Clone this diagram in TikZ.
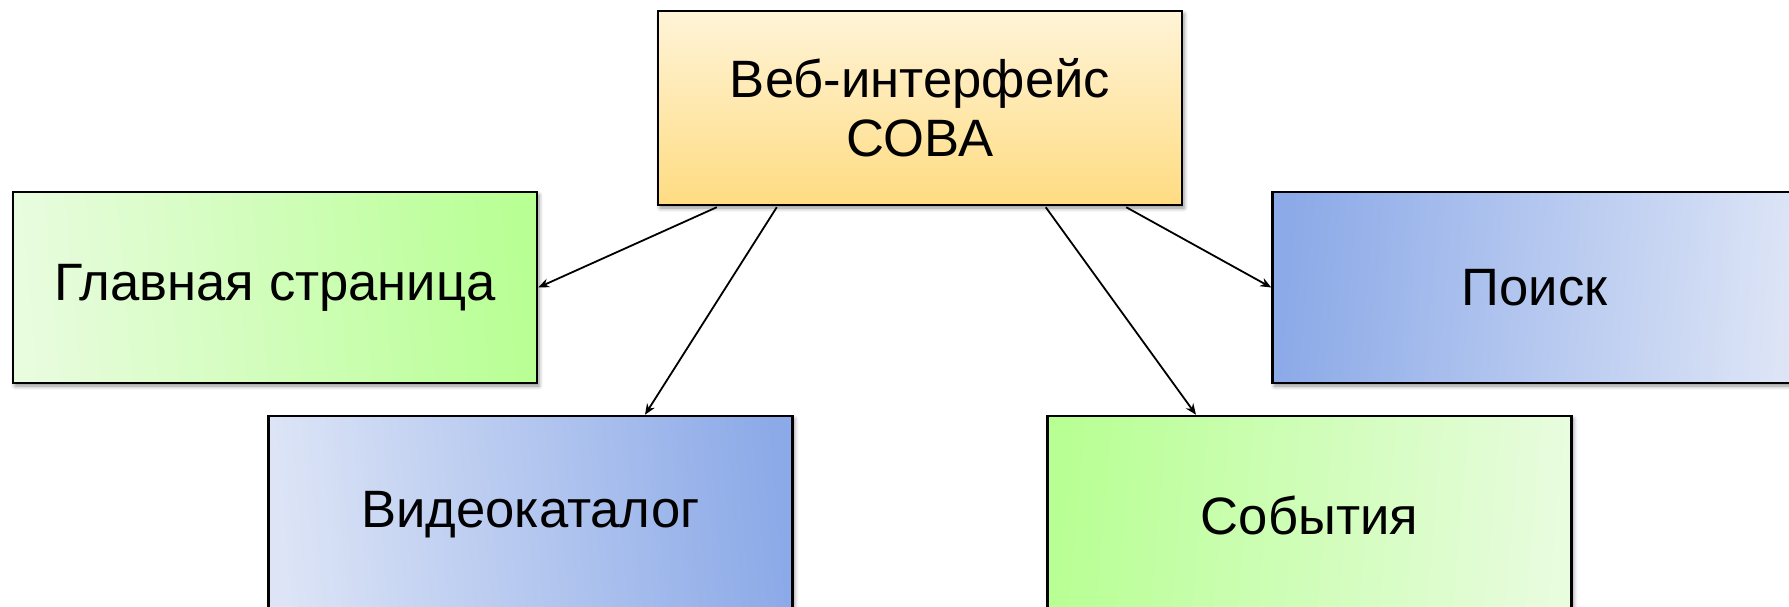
\documentclass[tikz,border=0pt]{standalone}
\usepackage{fontspec}
\setmainfont{Liberation Sans}
\usetikzlibrary{shadows.blur,arrows.meta,calc}
\definecolor{topA}{RGB}{255,244,216}
\definecolor{topB}{RGB}{255,220,130}
\definecolor{grD}{RGB}{184,255,148}
\definecolor{grL}{RGB}{232,252,222}
\definecolor{blD}{RGB}{140,170,232}
\definecolor{blL}{RGB}{220,228,246}
\tikzset{
  box/.style={draw=black, line width=2.5pt, rectangle, minimum width=524pt, minimum height=191pt,
    inner sep=0pt, align=center, font=\fontsize{52.6}{59}\selectfont,
    blur shadow={shadow xshift=2pt, shadow yshift=-3pt, shadow blur radius=4pt, shadow opacity=45}},
  link/.style={draw=black, line width=1.8pt, -{Stealth[length=11pt,width=9pt]}}
}
\begin{document}
\begin{tikzpicture}[x=1pt,y=-1pt]
\useasboundingbox (0,0) rectangle (1789,607);
\node[box, minimum height=194pt, top color=topA, bottom color=topB] (top) at (920,108) {Веб-интерфейс\\СОВА};
\node[box, top color=grD, bottom color=grL, shading angle=-85] (main) at (275,287.5) {Главная страница};
\node[box, top color=blD, bottom color=blL, shading angle=85] (search) at (1534.5,287.5) {Поиск};
\node[box, minimum height=198pt, top color=blD, bottom color=blL, shading angle=-85] (video) at (530.5,515) {Видеокаталог};
\node[box, minimum height=198pt, top color=grD, bottom color=grL, shading angle=85] (events) at (1309.5,515) {События};
\draw[link] ($(top.south west)+(60,1)$) -- (main.east);
\draw[link] ($(top.south west)+(120,1)$) -- ($(video.north)+(114.5,0)$);
\draw[link] ($(top.south west)+(389,1)$) -- ($(events.north)+(-113.5,0)$);
\draw[link] ($(top.south east)+(-57,1)$) -- (search.west);
\end{tikzpicture}
\end{document}
